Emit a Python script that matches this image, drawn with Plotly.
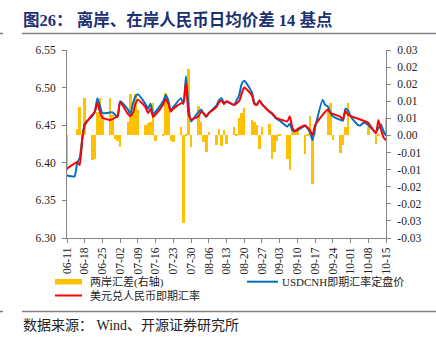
import plotly.graph_objects as go

# ---------------- data (2021) ----------------
dates = ["06-11","06-14","06-15","06-16","06-17","06-18",
         "06-21","06-22","06-23","06-24","06-25",
         "06-28","06-29","06-30","07-01","07-02",
         "07-05","07-06","07-07","07-08","07-09",
         "07-12","07-13","07-14","07-15","07-16",
         "07-19","07-20","07-21","07-22","07-23",
         "07-26","07-27","07-28","07-29","07-30",
         "08-02","08-03","08-04","08-05","08-06",
         "08-09","08-10","08-11","08-12","08-13",
         "08-16","08-17","08-18","08-19","08-20",
         "08-23","08-24","08-25","08-26","08-27",
         "08-30","08-31","09-01","09-02","09-03",
         "09-06","09-07","09-08","09-09","09-10",
         "09-13","09-14","09-15","09-16","09-17",
         "09-20","09-21","09-22","09-23","09-24",
         "09-27","09-28","09-29","09-30","10-01",
         "10-04","10-05","10-06","10-07","10-08",
         "10-11","10-12","10-13","10-14","10-15"]

usdcnh_fix = [6.383,6.382,6.400,6.406,6.432,6.452,
              6.462,6.468,6.486,6.476,6.466,
              6.467,6.467,6.464,6.461,6.482,
              6.471,6.465,6.478,6.488,6.491,
              6.478,6.472,6.479,6.464,6.468,
              6.482,6.490,6.483,6.470,6.474,
              6.486,6.478,6.515,6.475,6.455,
              6.468,6.471,6.465,6.461,6.466,
              6.476,6.483,6.486,6.480,6.481,
              6.477,6.483,6.490,6.505,6.509,
              6.494,6.480,6.477,6.483,6.478,
              6.468,6.465,6.461,6.458,6.456,
              6.448,6.452,6.443,6.442,6.443,
              6.449,6.446,6.440,6.430,6.447,
              6.484,6.477,6.475,6.467,6.462,
              6.457,6.456,6.472,6.470,6.462,
              6.450,6.450,6.453,6.453,6.450,
              6.441,6.446,6.451,6.442,6.436]

usdcny_spot = [6.392,None,6.401,6.397,6.430,6.450,
               6.464,6.468,6.480,6.468,6.460,
               6.457,6.458,6.460,6.462,6.481,
               6.465,6.462,6.466,6.478,6.484,
               6.474,6.466,6.472,6.461,6.464,
               6.478,6.485,6.478,6.468,6.472,
               6.479,6.480,6.506,6.465,6.458,
               6.462,6.468,6.466,6.462,6.466,
               6.474,6.480,6.483,6.478,6.482,
               6.477,6.479,6.482,6.492,6.500,
               6.490,6.478,6.477,6.483,6.478,
               6.468,6.466,6.462,6.459,6.458,
               6.455,6.462,6.447,6.442,6.445,
               6.450,6.447,6.443,6.437,6.450,
               None,None,6.471,6.466,6.465,
               6.461,6.458,6.469,6.464,None,
               None,None,None,None,6.453,
               6.439,6.457,6.444,6.434,6.430]

spread = [-0.0103,None,0.0020,0.0082,-0.0040,0.0110,
          -0.0071,-0.0070,0.0070,0.0110,0.0060,
          0.0110,0.0060,-0.0010,-0.0015,-0.0035,
          0.0040,0.0120,0.0060,0.0120,0.0075,
          0.0030,0.0035,0.0040,0.0095,-0.0015,
          0.0002,0.0125,0.0085,-0.0015,-0.0020,
          0.0025,-0.0256,0.0003,0.0193,-0.0033,
          0.0085,0.0040,-0.0018,-0.0047,0.0010,
          -0.0028,0.0020,-0.0030,0.0015,-0.0025,
          0.0026,0.0005,0.0050,0.0065,0.0080,
          0.0045,0.0040,0.0030,-0.0040,0.0025,
          0.0033,-0.0070,-0.0047,-0.0017,0.0003,
          -0.0070,-0.0100,0.0010,0.0010,0.0015,
          -0.0055,0.0003,0.0057,-0.0142,0.0020,
          None,None,0.0077,0.0096,-0.0013,
          -0.0050,-0.0027,0.0026,0.0094,None,
          None,None,None,None,0.0026,
          -0.0025,0.0005,0.0000,0.0010,0.0050]

series_names = ["两岸汇差(右轴)", "USDCNH即期汇率定盘价", "美元兑人民币即期汇率"]
x_tick_labels = ["06-11","06-18","06-25","07-02","07-09","07-16","07-23","07-30",
                 "08-06","08-13","08-20","08-27","09-03","09-10","09-17","09-24",
                 "10-01","10-08","10-15"]
left_tickvals = [6.30, 6.35, 6.40, 6.45, 6.50, 6.55]
right_tickvals = [0.025, 0.02, 0.015, 0.01, 0.005, 0.0, -0.005, -0.01, -0.015, -0.02, -0.025, -0.03]
right_ticktext = ["0.03","0.02","0.02","0.01","0.01","0.00","-0.01","-0.01","-0.02","-0.02","-0.03","-0.03"]

# ---------------- layout helpers ----------------
W, H = 436, 345
L, R, T, B = 67, 386, 50, 238
def pxx(x): return (x - L) / (R - L)
def pxy(y): return (B - y) / (B - T)

YEAR = "2021-"
xd = [YEAR + d for d in dates]
xt = [YEAR + d for d in x_tick_labels]

SERIF = "Liberation Serif, Noto Sans CJK SC, serif"
GOLD = "#FFC000"
BLUE = "#0070C0"
RED = "#FF0000"
AXIS = "#868686"

fig = go.Figure()
fig.add_trace(go.Bar(x=xd, y=spread, marker=dict(color=GOLD, line=dict(width=0)),
                     width=86400000, yaxis="y", showlegend=False, name=series_names[0]))
fig.add_trace(go.Scatter(x=xd, y=usdcnh_fix, mode="lines", yaxis="y2", showlegend=False,
                         line=dict(color=BLUE, width=2, shape="spline", smoothing=0.5),
                         name=series_names[1]))
fig.add_trace(go.Scatter(x=xd, y=usdcny_spot, mode="lines", yaxis="y2", connectgaps=True,
                         showlegend=False,
                         line=dict(color=RED, width=2, shape="spline", smoothing=0.5),
                         name=series_names[2]))

tickfont = dict(family=SERIF, size=11.5, color="#222222")

fig.update_layout(
    width=W, height=H,
    margin=dict(l=L, r=W - R, t=T, b=H - B, pad=0),
    paper_bgcolor="white", plot_bgcolor="white",
    bargap=0, showlegend=False,
    xaxis=dict(type="date", range=["2021-06-11", "2021-10-15"],
               tickvals=xt, ticktext=x_tick_labels, tickangle=-90,
               ticks="outside", ticklen=4, tickcolor=AXIS,
               showline=True, linecolor=AXIS, linewidth=1,
               showgrid=False, zeroline=False, tickfont=tickfont),
    yaxis=dict(side="right", range=[-0.03, 0.025],
               tickvals=right_tickvals, ticktext=right_ticktext,
               ticks="outside", ticklen=4, tickcolor=AXIS,
               showline=True, linecolor=AXIS, linewidth=1,
               showgrid=False, zeroline=False, tickfont=tickfont,
               ticklabelstandoff=4),
    yaxis2=dict(overlaying="y", side="left", range=[6.30, 6.55],
                tickvals=left_tickvals, tickformat=".2f",
                ticks="outside", ticklen=4, tickcolor=AXIS,
                showline=True, linecolor=AXIS, linewidth=1,
                showgrid=False, zeroline=False, tickfont=tickfont,
                ticklabelstandoff=4),
    font=dict(family=SERIF),
)

# ---- legend (drawn manually to match the reference layout) ----
legend_items = [  # (swatch x0, x1, y, colour, thickness, text x, label)
    (55, 82, 281.7, GOLD, 5.5, 88, series_names[0]),
    (247, 278, 281.7, BLUE, 2, 280, series_names[1]),
    (55, 82, 295.5, RED, 2, 88, series_names[2]),
]
for x0, x1, yy, col, th, tx, name in legend_items:
    fig.add_shape(type="line", xref="paper", yref="paper",
                  x0=pxx(x0), x1=pxx(x1), y0=pxy(yy), y1=pxy(yy),
                  line=dict(color=col, width=th))
    fig.add_annotation(text=name, xref="paper", yref="paper", x=pxx(tx), y=pxy(yy),
                       xanchor="left", yanchor="middle", showarrow=False,
                       font=dict(family=SERIF, size=11, color="#222222"))

# title
fig.add_annotation(text="<b>图26： 离岸、在岸人民币日均价差 14 基点</b>",
                   xref="paper", yref="paper", x=pxx(21), y=pxy(20),
                   xanchor="left", yanchor="middle", showarrow=False,
                   font=dict(family=SERIF, size=16.5, color="#1C3172"))
# source
fig.add_annotation(text="数据来源： Wind、开源证券研究所",
                   xref="paper", yref="paper", x=pxx(21), y=pxy(325),
                   xanchor="left", yanchor="middle", showarrow=False,
                   font=dict(family=SERIF, size=14, color="#222222"))

# separator lines
for yy in (33.5, 311.5):
    fig.add_shape(type="line", xref="paper", yref="paper",
                  x0=pxx(22), x1=pxx(436), y0=pxy(yy), y1=pxy(yy),
                  line=dict(color="#7F7F7F", width=1.6))
    fig.add_shape(type="line", xref="paper", yref="paper",
                  x0=pxx(0), x1=pxx(3), y0=pxy(yy), y1=pxy(yy),
                  line=dict(color="#7F7F7F", width=1.6))

fig.write_html("out.html")
